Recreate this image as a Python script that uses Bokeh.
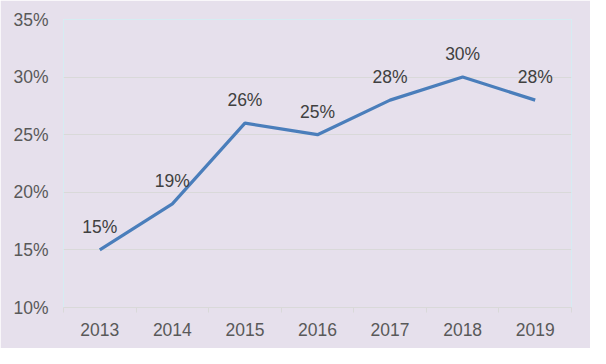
from bokeh.plotting import figure
from bokeh.models import ColumnDataSource, LabelSet, FixedTicker, Range1d
from bokeh.core.properties import value
from bokeh.embed import file_html
from bokeh.resources import INLINE

years = ["2013", "2014", "2015", "2016", "2017", "2018", "2019"]
share = [15, 19, 26, 25, 28, 30, 28]
y_ticks = [10, 15, 20, 25, 30, 35]

idx = list(range(len(years)))
src = ColumnDataSource(dict(x=idx, y=share, lbl=[f"{v}%" for v in share]))

BG = "#E6E0EC"
FONT = "Liberation Sans"
FS = "17.5px"

p = figure(width=590, height=348, output_backend="svg", toolbar_location=None,
           x_range=Range1d(-0.5, len(years) - 0.5), y_range=Range1d(10, 35),
           min_border_left=63, min_border_right=19, min_border_top=19, min_border_bottom=41)
p.background_fill_color = BG
p.border_fill_color = BG
p.outline_line_color = "#D5ECF2"
p.outline_line_width = 1

p.line("x", "y", source=src, line_color="#4A7EBB", line_width=3.2)

labels = LabelSet(x="x", y="y", text="lbl", source=src, text_align="center",
                  text_baseline="alphabetic", y_offset=17, text_font=value(FONT),
                  text_font_size=value(FS), text_color=value("#404040"))
p.add_layout(labels)

# x axis
p.xaxis.ticker = FixedTicker(ticks=idx, minor_ticks=[i - 0.5 for i in range(len(years) + 1)])
p.xaxis.major_label_overrides = {i: y for i, y in enumerate(years)}
p.xaxis.major_tick_line_color = None
p.xaxis.major_tick_out = 0
p.xaxis.major_tick_in = 0
p.xaxis.minor_tick_line_color = "#D9D9D9"
p.xaxis.minor_tick_out = 5
p.xaxis.minor_tick_in = 0
p.xaxis.axis_line_color = "#D9D9D9"
p.xaxis.major_label_standoff = 10
p.xaxis.major_label_text_font = FONT
p.xaxis.major_label_text_font_size = FS
p.xaxis.major_label_text_color = "#595959"

# y axis
p.yaxis.ticker = FixedTicker(ticks=y_ticks)
p.yaxis.major_label_overrides = {t: f"{t}%" for t in y_ticks}
p.yaxis.axis_line_color = None
p.yaxis.major_tick_line_color = None
p.yaxis.minor_tick_line_color = None
p.yaxis.major_tick_out = 0
p.yaxis.major_label_standoff = 15
p.yaxis.major_label_text_font = FONT
p.yaxis.major_label_text_font_size = FS
p.yaxis.major_label_text_color = "#595959"

p.xgrid.grid_line_color = None
p.ygrid.ticker = FixedTicker(ticks=y_ticks)
p.ygrid.grid_line_color = "#D9D9D9"
p.ygrid.grid_line_width = 1

open("out.html", "w").write(file_html(p, INLINE))
